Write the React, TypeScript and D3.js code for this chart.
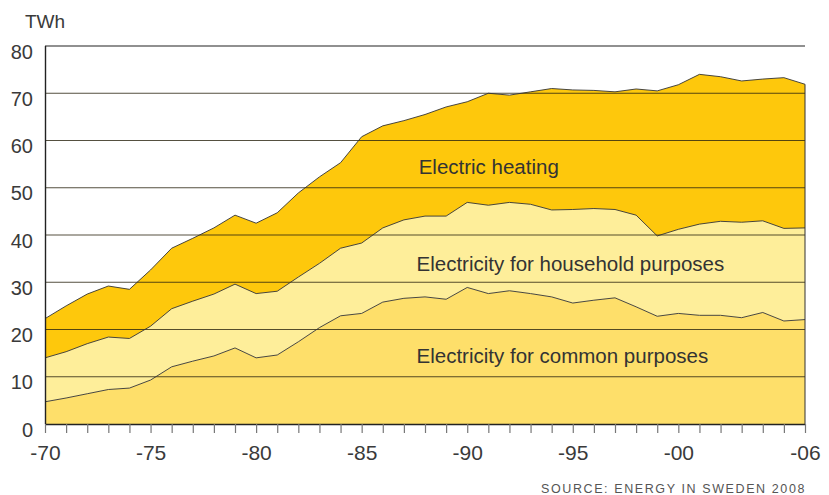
import React, { useEffect, useRef } from "react";
import * as d3 from "d3";

// Swedish electricity use in residential & service sector, TWh
const years = d3.range(1970, 2007);
const common = [4.7, 5.5, 6.4, 7.3, 7.6, 9.3, 12.1, 13.3, 14.4, 16.1, 14.0, 14.6, 17.4, 20.4, 22.9, 23.4, 25.8, 26.6, 26.9, 26.4, 28.9, 27.6, 28.2, 27.6, 26.9, 25.6, 26.2, 26.7, 24.8, 22.8, 23.4, 23.0, 23.0, 22.5, 23.6, 21.8, 22.1];
const household = [9.3, 9.8, 10.6, 11.1, 10.5, 11.4, 12.3, 12.7, 13.1, 13.5, 13.6, 13.5, 13.7, 13.6, 14.3, 14.9, 15.7, 16.6, 17.1, 17.6, 18.0, 18.7, 18.7, 18.9, 18.4, 19.8, 19.4, 18.7, 19.4, 17.0, 17.8, 19.3, 19.9, 20.2, 19.4, 19.6, 19.4];
const heating = [8.3, 9.7, 10.5, 10.8, 10.4, 11.9, 12.8, 13.3, 14.0, 14.6, 14.9, 16.6, 17.8, 18.3, 18.1, 22.5, 21.6, 21.0, 21.5, 23.1, 21.3, 23.7, 22.7, 23.8, 25.7, 25.3, 25.0, 24.9, 26.7, 30.7, 30.6, 31.7, 30.6, 29.9, 30.0, 31.9, 30.4];

const seriesKeys = ["common", "household", "heating"];
const seriesColors = ["#FEDF6A", "#FEEE9A", "#FEC80C"];
const yTicks = [0, 10, 20, 30, 40, 50, 60, 70, 80];
const xLabelYears = [1970, 1975, 1980, 1985, 1990, 1995, 2000, 2006];
const seriesLabels = [
  { text: "Electricity for common purposes", year: 1987.6, value: 13 },
  { text: "Electricity for household purposes", year: 1987.6, value: 32.4 },
  { text: "Electric heating", year: 1987.7, value: 53 },
];

const width = 829;
const height = 495;
const margin = { top: 46, right: 24, bottom: 71, left: 45 };
const font = "'Liberation Sans', Arial, sans-serif";

export default function App() {
  const ref = useRef<SVGSVGElement>(null);

  useEffect(() => {
    const svg = d3.select(ref.current);
    svg.selectAll("*").remove();

    const rows = years.map((year, i) => ({
      year,
      common: common[i],
      household: household[i],
      heating: heating[i],
    }));

    const x = d3
      .scaleLinear()
      .domain([1970, 2006])
      .range([margin.left, width - margin.right]);
    const y = d3
      .scaleLinear()
      .domain([0, 80])
      .range([height - margin.bottom, margin.top]);

    const stacked = d3.stack<any>().keys(seriesKeys)(rows);

    const area = d3
      .area<any>()
      .x((d) => x(d.data.year))
      .y0((d) => y(d[0]))
      .y1((d) => y(d[1]));

    svg
      .append("g")
      .selectAll("path")
      .data(stacked)
      .enter()
      .append("path")
      .attr("d", area)
      .attr("fill", (_, i) => seriesColors[i]);

    // gridlines go over the areas
    svg
      .append("g")
      .selectAll("line")
      .data(yTicks.filter((t) => t > 0))
      .enter()
      .append("line")
      .attr("x1", margin.left)
      .attr("x2", width - margin.right)
      .attr("y1", (d) => y(d))
      .attr("y2", (d) => y(d))
      .attr("stroke", (d) => (d === 80 ? "#222" : "#2a2410"))
      .attr("stroke-opacity", (d) => (d === 80 ? 1 : 0.8))
      .attr("stroke-width", 1.2);

    // top edges of each layer
    const topLine = d3
      .line<any>()
      .x((d) => x(d.data.year))
      .y((d) => y(d[1]));

    svg
      .append("g")
      .selectAll("path")
      .data(stacked)
      .enter()
      .append("path")
      .attr("d", topLine)
      .attr("fill", "none")
      .attr("stroke", "#333")
      .attr("stroke-width", 0.9);

    // right edge of the stack
    const last = stacked[stacked.length - 1][years.length - 1];
    svg
      .append("line")
      .attr("x1", x(2006))
      .attr("x2", x(2006))
      .attr("y1", y(last[1]))
      .attr("y2", y(0))
      .attr("stroke", "#333")
      .attr("stroke-width", 1);

    // y axis
    const yAxis = (g: any) =>
      g
        .attr("transform", `translate(${margin.left},0)`)
        .call(d3.axisLeft(y).tickValues(yTicks).tickSize(0).tickPadding(12))
        .call((g: any) => g.select(".domain").attr("stroke", "#222").attr("stroke-width", 1.4).attr("d", `M0.5,${y(80)}V${y(0)}`))
        .selectAll("text")
        .attr("dy", "0.6em")
        .attr("font-size", "20px")
        .attr("font-family", font)
        .attr("fill", "#3a3a3a");
    svg.append("g").call(yAxis);

    // x axis: one tick per year, labels every five
    const xAxis = (g: any) =>
      g
        .attr("transform", `translate(0,${y(0)})`)
        .call(
          d3
            .axisBottom(x)
            .tickValues(years)
            .tickSize(9)
            .tickPadding(12)
            .tickFormat((d: any) => (xLabelYears.includes(d) ? "-" + String(d).slice(2) : ""))
        )
        .call((g: any) => g.select(".domain").attr("stroke", "#222").attr("stroke-width", 1.6).attr("d", `M${x(1970)},0.5H${x(2006)}`))
        .call((g: any) => g.selectAll(".tick line").attr("stroke", "#777").attr("stroke-width", 1.2))
        .selectAll("text")
        .attr("font-size", "21px")
        .attr("font-family", font)
        .attr("fill", "#3a3a3a");
    svg.append("g").call(xAxis);

    svg
      .append("text")
      .attr("x", 25)
      .attr("y", 28)
      .attr("font-size", "19px")
      .attr("font-family", font)
      .attr("fill", "#3a3a3a")
      .text("TWh");

    svg
      .append("g")
      .selectAll("text")
      .data(seriesLabels)
      .enter()
      .append("text")
      .attr("x", (d) => x(d.year))
      .attr("y", (d) => y(d.value))
      .attr("font-size", "20.5px")
      .attr("font-family", font)
      .attr("fill", "#333")
      .text((d) => d.text);

    svg
      .append("text")
      .attr("x", 806)
      .attr("y", 493)
      .attr("text-anchor", "end")
      .attr("font-size", "12.5px")
      .attr("letter-spacing", "1.6px")
      .attr("font-family", font)
      .attr("fill", "#555")
      .text("SOURCE: ENERGY IN SWEDEN 2008");
  }, []);

  return (
    <svg
      ref={ref}
      width={width}
      height={height}
      style={{ position: "absolute", left: 0, top: 0, background: "#fff" }}
    />
  );
}
